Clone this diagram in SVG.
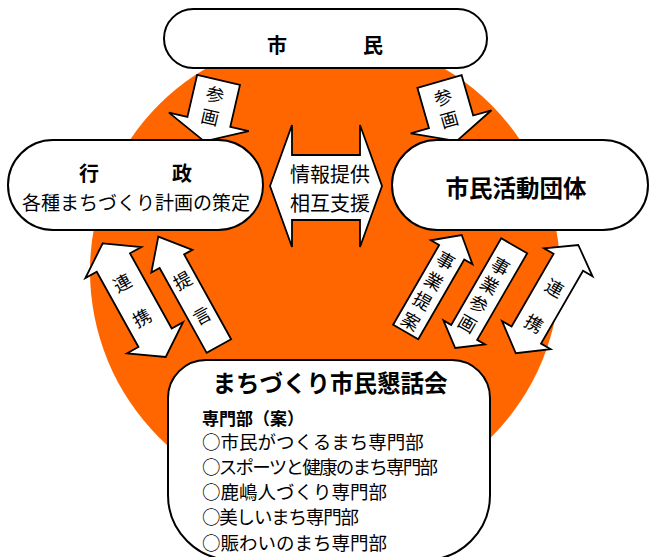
<svg xmlns="http://www.w3.org/2000/svg" width="651" height="557" viewBox="0 0 651 557">
<style>
.box{fill:#fff;stroke:#000;stroke-width:2}
.arr{fill:#fff;stroke:#000;stroke-width:1.8;stroke-linejoin:miter}
text{font-family:"Noto Sans CJK JP","Noto Sans CJK SC",sans-serif;fill:#000;dominant-baseline:central}
.b{font-weight:bold}
.lbl{font-size:18px;text-anchor:middle}
.mid{text-anchor:middle}
.li{font-size:18.5px}
</style>
<rect width="651" height="557" fill="#fff"/>
<circle cx="325" cy="271" r="235" fill="#FF6600"/>
<g id="connectors">
  <g id="arrow-sankaku-left" transform="translate(211.1,112.1) rotate(13)">
    <path class="arr" d="M-22,-33 H22 V10 H41 L0,30 L-41,10 H-22 Z"/>
    <text class="lbl" x="0" y="-19">参</text>
    <text class="lbl" x="0" y="4">画</text>
  </g>
  <g id="arrow-sankaku-right" transform="translate(448.6,113.2) rotate(-16)">
    <path class="arr" d="M-23,-33 H23 V9 H42 L0,29 L-42,9 H-23 Z"/>
    <text class="lbl" x="-1" y="-18">参</text>
    <text class="lbl" x="-1" y="5">画</text>
  </g>
  <g id="arrow-joho">
    <path class="arr" d="M270,186 L292,125 V155 H360 V125 L382,186 L360,247 V220 H292 V247 Z"/>
    <text class="mid" x="330" y="173" font-size="20">情報提供</text>
    <text class="mid" x="330" y="202" font-size="20">相互支援</text>
  </g>
  <g id="arrow-teigen" transform="translate(158.3,236.7) rotate(-29)">
    <path class="arr" d="M0,0 L23.5,28 H14 V125 H-14 V28 H-23.5 Z"/>
    <text class="lbl" x="0" y="49">提</text>
    <text class="lbl" x="0" y="89">言</text>
  </g>
  <g id="arrow-renkei-left" transform="translate(102.7,243.3) rotate(-29)">
    <path class="arr" d="M0,0 L32,22 H19 V108 H32 L0,130 L-32,108 H-19 V22 H-32 Z"/>
    <text class="lbl" x="-2" y="43">連</text>
    <text class="lbl" x="-2" y="83">携</text>
  </g>
  <g id="arrow-jigyo-teian" transform="translate(461.7,235) rotate(30)">
    <path class="arr" d="M0,0 L24,20 H14.5 V112 H-14.5 V20 H-24 Z"/>
    <text class="lbl" x="-1" y="29">事</text>
    <text class="lbl" x="-1" y="52.5">業</text>
    <text class="lbl" x="-1" y="75.5">提</text>
    <text class="lbl" x="-1" y="99">案</text>
  </g>
  <g id="arrow-jigyo-sankaku" transform="translate(514.2,245.8) rotate(30)">
    <path class="arr" d="M-15,0 H15 V100 H24 L0,118 L-24,100 H-15 Z"/>
    <text class="lbl" x="-1.5" y="23.5">事</text>
    <text class="lbl" x="-1.5" y="45">業</text>
    <text class="lbl" x="-1.5" y="67">参</text>
    <text class="lbl" x="-1.5" y="89.5">画</text>
  </g>
  <g id="arrow-renkei-right" transform="translate(578.3,245) rotate(30)">
    <path class="arr" d="M0,0 L28,20 H17 V104 H28 L0,125 L-28,104 H-17 V20 H-28 Z"/>
    <text class="lbl" x="1" y="48">連</text>
    <text class="lbl" x="1" y="89">携</text>
  </g>
</g>
<g id="node-shimin">
  <rect class="box" x="164" y="9" width="323" height="59" rx="29.5"/>
  <text class="b mid" font-size="20" y="44"><tspan x="277">市</tspan><tspan x="373">民</tspan></text>
</g>
<g id="node-gyosei">
  <rect class="box" x="8" y="140" width="255" height="90" rx="45"/>
  <text class="b mid" font-size="20" y="172"><tspan x="89">行</tspan><tspan x="182">政</tspan></text>
  <text class="mid" font-size="19" x="136" y="201">各種まちづくり計画の策定</text>
</g>
<g id="node-katsudo">
  <rect class="box" x="392" y="140" width="256" height="90" rx="45"/>
  <text class="b mid" font-size="23.5" x="516" y="187">市民活動団体</text>
</g>
<g id="node-kondankai">
  <path class="box" d="M206,360 H452 A38,38 0 0 1 490,398 V495 A65,65 0 0 1 425,560 H233 A65,65 0 0 1 168,495 V398 A38,38 0 0 1 206,360 Z"/>
  <text class="b mid" font-size="23.5" x="330" y="382">まちづくり市民懇話会</text>
  <text class="b" font-size="17" x="202" y="417.5">専門部（案）</text>
  <text class="li" x="202" y="441">○市民がつくるまち専門部</text>
  <text class="li" x="202" y="466" textLength="236" lengthAdjust="spacing">○スポーツと健康のまち専門部</text>
  <text class="li" x="202" y="491.2">○鹿嶋人づくり専門部</text>
  <text class="li" x="202" y="516.4" textLength="157" lengthAdjust="spacing">○美しいまち専門部</text>
  <text class="li" x="202" y="541.7">○賑わいのまち専門部</text>
</g>
</svg>
